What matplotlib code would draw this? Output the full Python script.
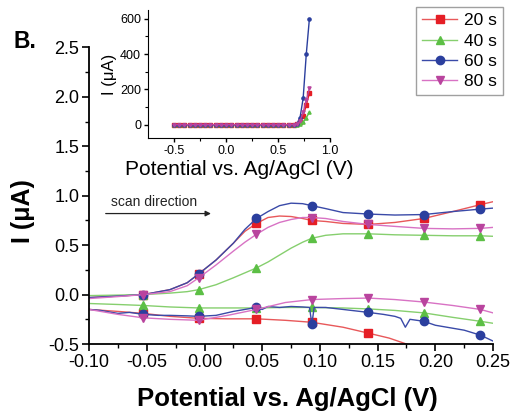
import numpy as np
import matplotlib
matplotlib.use("Agg")
import matplotlib.pyplot as plt
from matplotlib.lines import Line2D

plt.rcParams['font.family'] = ['Liberation Sans', 'DejaVu Sans']

labels = ["20 s", "40 s", "60 s", "80 s"]
line_colors = ["#e8585a", "#86cf6e", "#3a4aa8", "#d872c4"]
marker_colors = ["#e51e25", "#5cbf45", "#2b3f9e", "#b9449e"]
markers = ["s", "^", "o", "v"]

marker_x = [-0.053, -0.005, 0.045, 0.093, 0.142, 0.19, 0.239]

# forward scan (upper branch)
x_fwd = [-0.1, -0.075, -0.053, -0.03, -0.015, -0.005, 0.01, 0.025, 0.035, 0.045,
         0.055, 0.065, 0.075, 0.085, 0.093, 0.105, 0.12, 0.142, 0.165, 0.19, 0.215, 0.239, 0.25]
fwd_20 = [-0.03, -0.015, 0.0, 0.05, 0.12, 0.21, 0.35, 0.52, 0.64, 0.72,
          0.78, 0.795, 0.79, 0.77, 0.75, 0.74, 0.72, 0.71, 0.73, 0.77, 0.84, 0.91, 0.94]
fwd_40 = [-0.01, -0.005, 0.0, 0.015, 0.03, 0.05, 0.10, 0.17, 0.22, 0.27,
          0.33, 0.40, 0.47, 0.53, 0.57, 0.60, 0.615, 0.615, 0.605, 0.60, 0.595, 0.595, 0.59]
fwd_60 = [-0.03, -0.015, 0.0, 0.05, 0.12, 0.21, 0.35, 0.52, 0.66, 0.77,
          0.84, 0.90, 0.925, 0.92, 0.90, 0.87, 0.83, 0.815, 0.805, 0.81, 0.84, 0.865, 0.875]
fwd_80 = [-0.04, -0.02, 0.0, 0.03, 0.09, 0.17, 0.30, 0.44, 0.53, 0.61,
          0.68, 0.73, 0.76, 0.78, 0.78, 0.77, 0.74, 0.71, 0.69, 0.67, 0.665, 0.67, 0.68]

# reverse scan (lower branch), listed by increasing potential
x_rev_20 = [-0.1, -0.075, -0.053, -0.03, -0.005, 0.02, 0.045, 0.07, 0.093, 0.12, 0.142, 0.16, 0.175, 0.19, 0.215, 0.25]
rev_20 = [-0.15, -0.17, -0.19, -0.22, -0.24, -0.245, -0.245, -0.26, -0.28, -0.33, -0.39, -0.44, -0.50, -0.56, -0.66, -0.85]
x_rev_40 = [-0.1, -0.075, -0.053, -0.03, -0.005, 0.02, 0.045, 0.07, 0.093, 0.12, 0.142, 0.165, 0.19, 0.215, 0.239, 0.25]
rev_40 = [-0.09, -0.10, -0.11, -0.125, -0.135, -0.135, -0.135, -0.13, -0.13, -0.135, -0.145, -0.16, -0.185, -0.23, -0.27, -0.29]
x_rev_60 = [-0.1, -0.09, -0.085, -0.075, -0.065, -0.053, -0.04, -0.03, -0.015, -0.005, 0.01, 0.025, 0.035,
            0.045, 0.05, 0.055, 0.065, 0.075, 0.085, 0.091, 0.093, 0.095, 0.105, 0.12, 0.142,
            0.155, 0.165, 0.170, 0.174, 0.178, 0.19, 0.2, 0.215, 0.225, 0.239, 0.25]
rev_60 = [-0.15, -0.16, -0.17, -0.19, -0.18, -0.20, -0.21, -0.21, -0.215, -0.22, -0.21, -0.17, -0.15,
          -0.13, -0.15, -0.12, -0.13, -0.12, -0.125, -0.13, -0.30, -0.13, -0.13, -0.15, -0.18,
          -0.20, -0.22, -0.24, -0.33, -0.25, -0.27, -0.31, -0.34, -0.36, -0.41, -0.47]
x_rev_80 = [-0.1, -0.075, -0.053, -0.03, -0.005, 0.02, 0.045, 0.07, 0.093, 0.12, 0.142, 0.165, 0.19, 0.215, 0.239, 0.25]
rev_80 = [-0.15, -0.20, -0.235, -0.25, -0.26, -0.21, -0.15, -0.08, -0.05, -0.04, -0.035, -0.05, -0.075, -0.11, -0.15, -0.185]

# inset data (wide potential window)
inset_x = [-0.5, -0.45, -0.4, -0.35, -0.3, -0.25, -0.2, -0.15, -0.1, -0.05, 0.0, 0.05, 0.1, 0.15,
           0.2, 0.25, 0.3, 0.35, 0.4, 0.45, 0.5, 0.55, 0.6, 0.65, 0.68, 0.71, 0.74, 0.77, 0.8]
inset_20 = [0]*24 + [2, 15, 50, 110, 180]
inset_40 = [0]*24 + [0, 3, 15, 40, 70]
inset_60 = [0]*24 + [5, 40, 150, 400, 600]
inset_80 = [0]*24 + [3, 20, 70, 140, 205]

fig = plt.figure(figsize=(5.12, 4.13), dpi=100)
ax = fig.add_axes([0.174, 0.167, 0.789, 0.718])

fwd = [fwd_20, fwd_40, fwd_60, fwd_80]
revx = [x_rev_20, x_rev_40, x_rev_60, x_rev_80]
revy = [rev_20, rev_40, rev_60, rev_80]

def mark_idx(xs):
    xs = np.round(np.asarray(xs), 4)
    return [i for i, v in enumerate(xs) if v in np.round(marker_x, 4)]

for i in range(4):
    ax.plot(x_fwd, fwd[i], color=line_colors[i], lw=1.0, marker=markers[i],
            markevery=mark_idx(x_fwd), markersize=6, markerfacecolor=marker_colors[i],
            markeredgecolor=marker_colors[i])
    ax.plot(revx[i], revy[i], color=line_colors[i], lw=1.0, marker=markers[i],
            markevery=mark_idx(revx[i]), markersize=6, markerfacecolor=marker_colors[i],
            markeredgecolor=marker_colors[i])

ax.set_xlim(-0.1, 0.25)
ax.set_ylim(-0.5, 2.5)
ax.set_xticks([-0.1, -0.05, 0.0, 0.05, 0.1, 0.15, 0.2, 0.25])
ax.set_xticklabels(["-0.10", "-0.05", "0.00", "0.05", "0.10", "0.15", "0.20", "0.25"])
ax.set_xticks(np.arange(-0.075, 0.25, 0.05), minor=True)
ax.set_yticks([-0.5, 0.0, 0.5, 1.0, 1.5, 2.0, 2.5])
ax.set_yticklabels(["-0.5", "0.0", "0.5", "1.0", "1.5", "2.0", "2.5"])
ax.set_yticks(np.arange(-0.25, 2.5, 0.5), minor=True)
for s in ["top", "right"]:
    ax.spines[s].set_visible(False)
for s in ["left", "bottom"]:
    ax.spines[s].set_linewidth(1.3)
ax.tick_params(which="major", direction="out", length=5, width=1.2, labelsize=13, pad=2)
ax.tick_params(which="minor", direction="out", length=3, width=1.0)
ax.set_xlabel("Potential vs. Ag/AgCl (V)", fontsize=18.5, fontweight="bold")
ax.xaxis.set_label_coords(0.49, -0.145)
ax.set_ylabel("I (μA)", fontsize=18, fontweight="bold")
ax.yaxis.set_label_coords(-0.134, 0.449)

ax.annotate("", xy=(0.008, 0.82), xytext=(-0.088, 0.82),
            arrowprops=dict(arrowstyle="-|>", color="#222222", lw=0.9, mutation_scale=8))
ax.text(-0.081, 0.94, "scan direction", fontsize=10, va="center", ha="left", color="#222222")

fig.text(0.027, 0.900, "B.", fontsize=16.5, fontweight="bold", ha="left", va="center")

# inset
ins = fig.add_axes([0.289, 0.666, 0.356, 0.310])
inset_ys = [inset_20, inset_40, inset_60, inset_80]
for i in range(4):
    ins.plot(inset_x, inset_ys[i], color=marker_colors[i], lw=1.0, marker=markers[i],
             markersize=2.3, markerfacecolor=marker_colors[i], markeredgecolor=marker_colors[i])
ins.set_xlim(-0.75, 1.0)
ins.set_ylim(-75, 650)
ins.set_xticks([-0.5, 0.0, 0.5, 1.0])
ins.set_xticklabels(["-0.5", "0.0", "0.5", "1.0"])
ins.set_xticks([-0.25, 0.25, 0.75], minor=True)
ins.set_yticks([0, 200, 400, 600])
ins.set_yticks([100, 300, 500], minor=True)
for s in ["top", "right"]:
    ins.spines[s].set_visible(False)
ins.tick_params(which="major", direction="out", length=3, width=1.0, labelsize=9, pad=2)
ins.tick_params(which="minor", direction="out", length=2, width=0.8)
ins.set_xlabel("Potential vs. Ag/AgCl (V)", fontsize=15, labelpad=2)
ins.set_ylabel("I (μA)", fontsize=12, labelpad=2)

handles = [Line2D([0], [0], color=line_colors[i], lw=1.0, marker=markers[i], markersize=6,
                  markerfacecolor=marker_colors[i], markeredgecolor=marker_colors[i])
           for i in range(4)]
leg = fig.legend(handles, labels, loc="upper right", bbox_to_anchor=(503 / 512, 1 - 7 / 413),
                 fontsize=12.5, frameon=True, fancybox=False, edgecolor="#888888",
                 handlelength=2.0, handletextpad=0.4, borderpad=0.35, labelspacing=0.3,
                 borderaxespad=0)
leg.get_frame().set_linewidth(1.0)

fig.savefig("out.png", dpi=100)
